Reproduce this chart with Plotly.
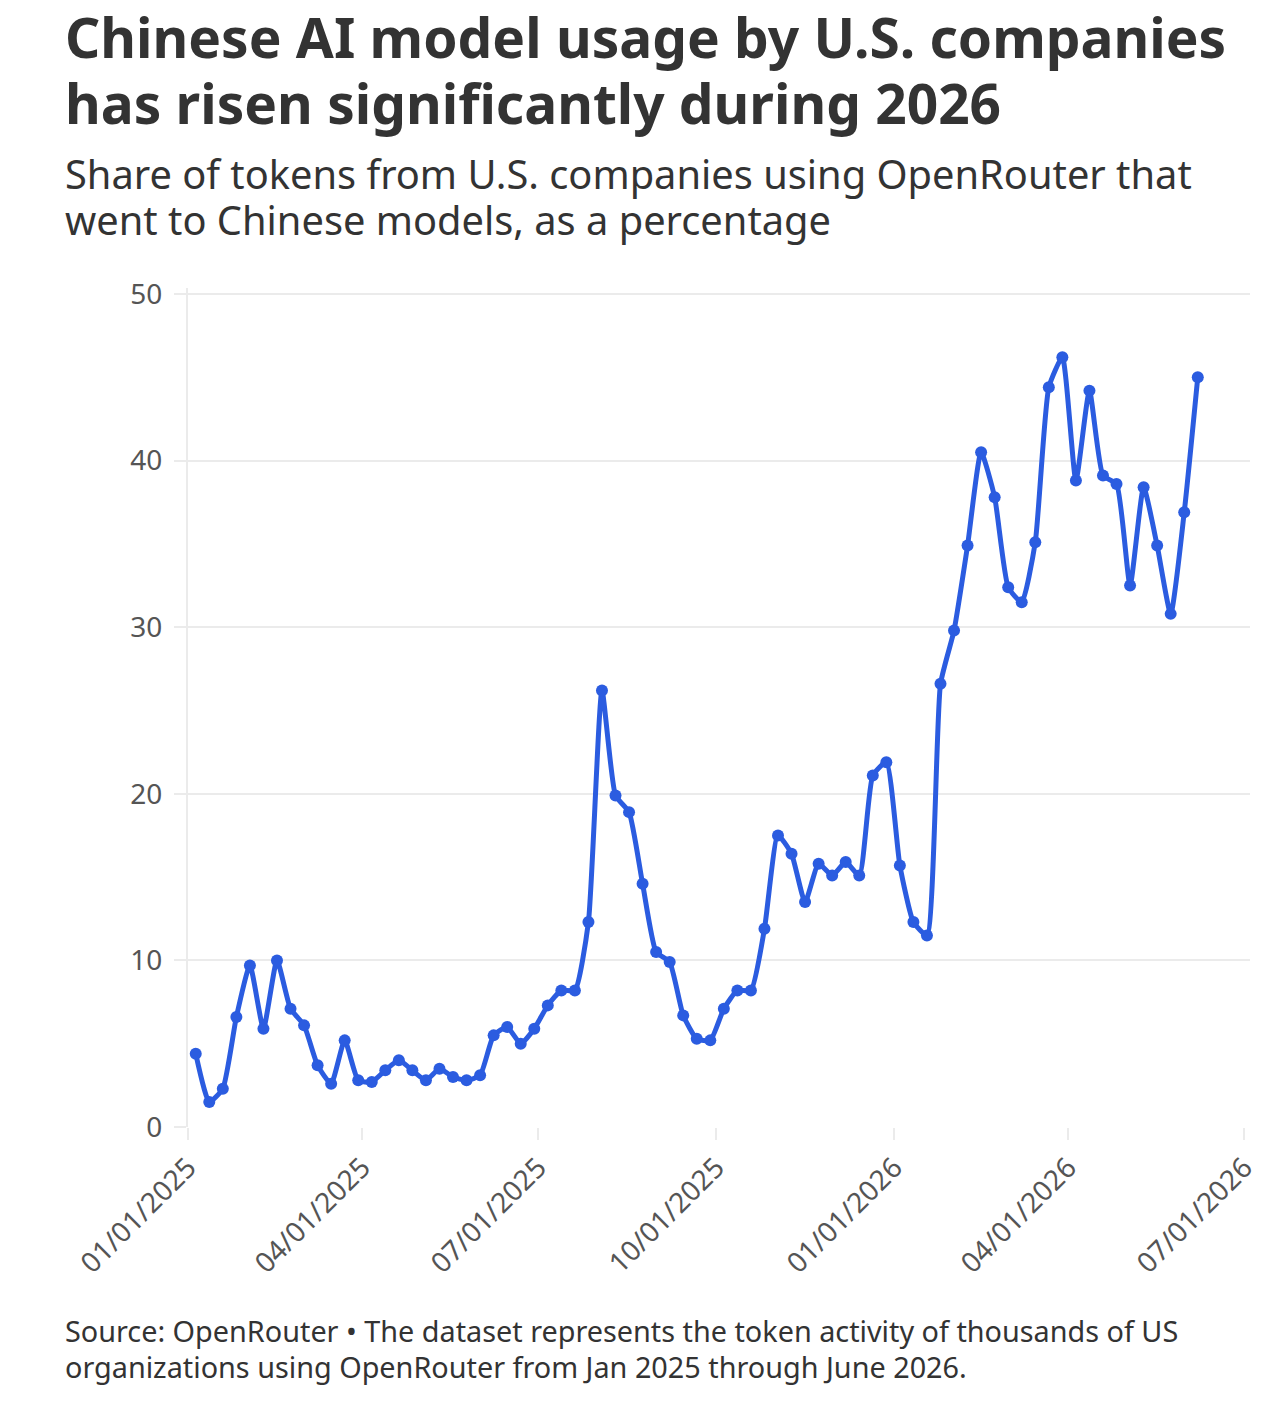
import plotly.graph_objects as go
import pandas as pd

# weekly share of tokens (%) going to Chinese models
start_week = "2025-01-05"
n_weeks = 75
share_pct = [
    4.4, 1.5, 2.3, 6.6, 9.7, 5.9, 10.0, 7.1, 6.1, 3.7,
    2.6, 5.2, 2.8, 2.7, 3.4, 4.0, 3.4, 2.8, 3.5, 3.0,
    2.8, 3.1, 5.5, 6.0, 5.0, 5.9, 7.3, 8.2, 8.2, 12.3,
    26.2, 19.9, 18.9, 14.6, 10.5, 9.9, 6.7, 5.3, 5.2, 7.1,
    8.2, 8.2, 11.9, 17.5, 16.4, 13.5, 15.8, 15.1, 15.9, 15.1,
    21.1, 21.9, 15.7, 12.3, 11.5, 26.6, 29.8, 34.9, 40.5, 37.8,
    32.4, 31.5, 35.1, 44.4, 46.2, 38.8, 44.2, 39.1, 38.6, 32.5,
    38.4, 34.9, 30.8, 36.9, 45.0,
]
weeks = pd.date_range(start_week, periods=n_weeks, freq="7D")

tick_dates = ["2025-01-01", "2025-04-01", "2025-07-01", "2025-10-01",
              "2026-01-01", "2026-04-01", "2026-07-01"]
tick_labels = ["01/01/2025", "04/01/2025", "07/01/2025", "10/01/2025",
               "01/01/2026", "04/01/2026", "07/01/2026"]

title_lines = ["Chinese AI model usage by U.S. companies",
               "has risen significantly during 2026"]
subtitle_lines = ["Share of tokens from U.S. companies using OpenRouter that",
                  "went to Chinese models, as a percentage"]
footer_lines = ["Source: OpenRouter \u2022 The dataset represents the token activity of thousands of US",
                "organizations using OpenRouter from Jan 2025 through June 2026."]

FONT = "Noto Sans"
BLUE = "#2B5CE0"

fig = go.Figure()
fig.add_trace(go.Scatter(
    x=weeks, y=share_pct,
    mode="lines+markers",
    line=dict(color=BLUE, width=5, shape="spline", smoothing=0.5),
    marker=dict(color=BLUE, size=12),
    cliponaxis=False,
    hoverinfo="x+y",
))

# text blocks as annotations (paper coords relative to plot area)
def ann(text, y, size, color, bold=False):
    fig.add_annotation(
        text=f"<b>{text}</b>" if bold else text,
        xref="paper", yref="paper", x=-0.1177, y=y,
        xanchor="left", yanchor="middle", showarrow=False,
        font=dict(family=FONT, size=size, color=color),
    )

for txt, y in zip(title_lines, [1.300, 1.221]):
    ann(txt, y, 55, "#333333", bold=True)
for txt, y in zip(subtitle_lines, [1.1365, 1.0817]):
    ann(txt, y, 39.8, "#333333")
for txt, y in zip(footer_lines, [-0.2425, -0.2854]):
    ann(txt, y, 28.8, "#333333")

# page body has an 8px margin, so the figure is sized/offset to compensate
fig.update_layout(
    width=1278, height=1404,
    margin=dict(l=180, r=36, t=280, b=285),
    plot_bgcolor="white", paper_bgcolor="white",
    showlegend=False,
    font=dict(family=FONT, color="#555555"),
    xaxis=dict(
        range=["2025-01-01", "2026-07-04"],
        tickvals=tick_dates, ticktext=tick_labels,
        tickangle=-45, tickfont=dict(size=28, color="#555555"),
        showgrid=False, zeroline=False,
        ticks="outside", ticklen=12, tickwidth=2, tickcolor="#ebebeb",
        showline=False,
    ),
    yaxis=dict(
        range=[0, 50.36],
        tickvals=[0, 10, 20, 30, 40, 50],
        tickfont=dict(size=28, color="#555555"),
        ticklabelstandoff=6,
        showgrid=True, gridcolor="#ebebeb", gridwidth=2,
        zeroline=False,
        ticks="outside", ticklen=12, tickwidth=2, tickcolor="#ebebeb",
        showline=True, linecolor="#ebebeb", linewidth=2,
    ),
)

fig.write_html("out.html")
